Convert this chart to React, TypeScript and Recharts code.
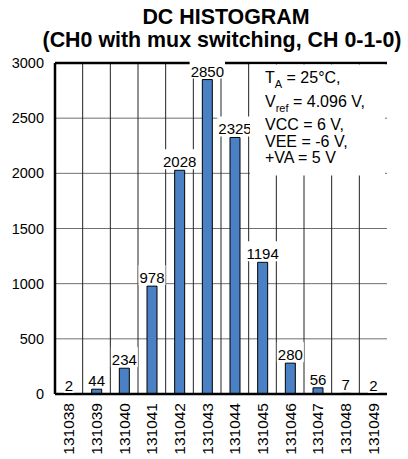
import React from 'react';
import { BarChart, Bar, XAxis, YAxis, CartesianGrid, LabelList, ReferenceLine } from 'recharts';

const categories = ['131038', '131039', '131040', '131041', '131042', '131043', '131044', '131045', '131046', '131047', '131048', '131049'];
const counts = [2, 44, 234, 978, 2028, 2850, 2325, 1194, 280, 56, 7, 2];
const yTicks = [0, 500, 1000, 1500, 2000, 2500, 3000];
const titleLines = ['DC HISTOGRAM', '(CH0 with mux switching, CH 0-1-0)'];

const data = categories.map((code, i) => ({ code, count: counts[i] }));

const FONT = '"Liberation Sans", Arial, Helvetica, sans-serif';
const BAR_COLOR = '#4A80C4';

const ValueLabel = (props: any) => {
  const { x, y, width, value } = props;
  const cx = Number(x) + Number(width) / 2;
  const top = Number(y);
  const txt = String(value);
  const fs = 15;
  const w = txt.length * 0.556 * fs + 2;
  return (
    <g>
      <rect x={cx - w / 2} y={top - 21} width={w} height={20} fill="#fff" />
      <text x={cx} y={top - 3} textAnchor="middle" fontSize={fs} fontFamily={FONT} fill="#000">
        {txt}
      </text>
    </g>
  );
};

const XTick = (props: any) => {
  const { x, y, payload } = props;
  return (
    <g transform={`translate(${x},${y})`}>
      <text transform="rotate(-90)" textAnchor="end" dy="0.36em" fontSize={15.5} fontFamily={FONT} fill="#000">
        {payload.value}
      </text>
    </g>
  );
};

const verticalBoundaries = ({ offset }: any) => {
  const n = categories.length;
  const res: number[] = [];
  for (let i = 1; i < n; i++) res.push(offset.left + (offset.width * i) / n);
  return res;
};

export default function App() {
  return (
    <div style={{ position: 'absolute', left: 0, top: 0, width: 408, height: 459, background: '#fff' }}>
      <BarChart
        width={408}
        height={459}
        data={data}
        margin={{ top: 63, right: 21, bottom: 5, left: 5 }}
        barCategoryGap={0}
      >
        <CartesianGrid horizontal={true} vertical={false} stroke="#707070" strokeWidth={1} />
        <CartesianGrid horizontal={false} vertical={true} stroke="#222" strokeWidth={1} verticalCoordinatesGenerator={verticalBoundaries} />
        <XAxis
          dataKey="code"
          interval={0}
          height={60}
          tickLine={false}
          tickSize={0}
          tickMargin={9}
          tick={<XTick />}
          axisLine={{ stroke: '#000', strokeWidth: 2.5 }}
        />
        <YAxis
          domain={[0, 3000]}
          ticks={yTicks}
          width={50}
          tickLine={false}
          tickSize={6}
          tickMargin={5}
          tick={{ fontSize: 14.5, fontFamily: FONT, fill: '#000' }}
          axisLine={{ stroke: '#000', strokeWidth: 2.5 }}
        />
        <YAxis
          yAxisId="r"
          orientation="right"
          domain={[0, 3000]}
          ticks={yTicks}
          width={0}
          mirror
          tickSize={4}
          tickFormatter={() => ''}
          tickLine={{ stroke: '#000' }}
          axisLine={{ stroke: '#000', strokeWidth: 2.5 }}
        />
        <ReferenceLine y={3000} stroke="#000" strokeWidth={2.5} />
        <Bar dataKey="count" fill={BAR_COLOR} stroke="#000" strokeWidth={1} barSize={10} isAnimationActive={false}>
          <LabelList dataKey="count" content={<ValueLabel />} />
        </Bar>
      </BarChart>
      <svg width={408} height={459} style={{ position: 'absolute', left: 0, top: 0, pointerEvents: 'none' }}>
        <text x={226} y={24} textAnchor="middle" fontSize={21.4} fontWeight="bold" fontFamily={FONT} fill="#000">
          {titleLines[0]}
        </text>
        <text x={222} y={47} textAnchor="middle" fontSize={21.4} fontWeight="bold" fontFamily={FONT} fill="#000">
          {titleLines[1]}
        </text>
        <rect x={250} y={64.5} width={135} height={111} fill="#fff" />
        <g fontSize={16} fontFamily={FONT} fill="#000">
          <text x={265} y={83}>
            T<tspan fontSize={11} dy={5}>A</tspan>
            <tspan dy={-5}> = 25°C,</tspan>
          </text>
          <text x={265} y={106.5}>
            V<tspan fontSize={11} dy={5}>ref</tspan>
            <tspan dy={-5}> = 4.096 V,</tspan>
          </text>
          <text x={265} y={130}>VCC = 6 V,</text>
          <text x={265} y={146.5}>VEE = -6 V,</text>
          <text x={265} y={163}>+VA = 5 V</text>
        </g>
      </svg>
    </div>
  );
}
